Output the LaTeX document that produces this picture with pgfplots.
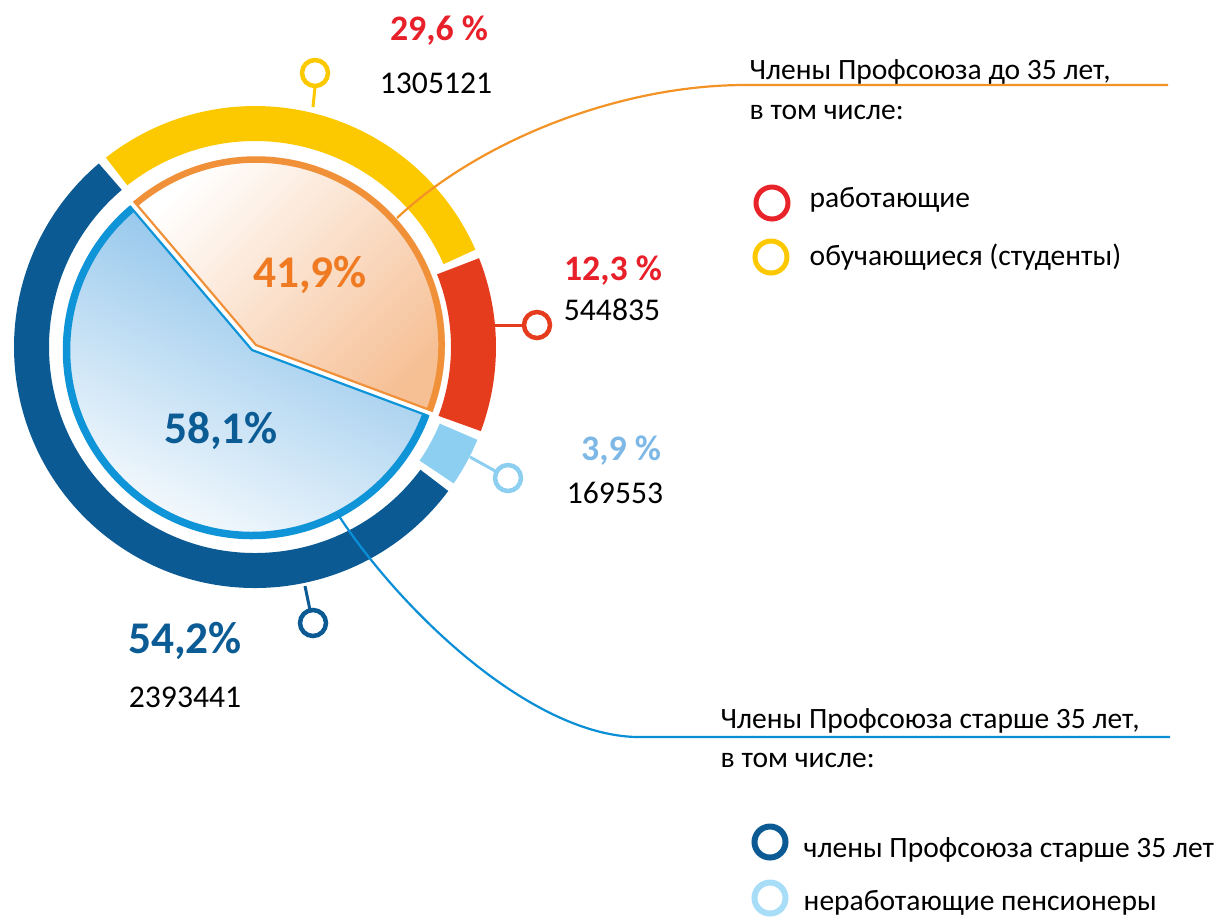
\documentclass[border=0pt]{standalone}
\usepackage{fontspec}
\setmainfont{Carlito}
\usepackage{pgfplots}
\usepackage{pgfplotstable}
\pgfplotsset{compat=1.18}

\definecolor{ringyellow}{HTML}{FCC800}
\definecolor{ringred}{HTML}{E63C1E}
\definecolor{ringlight}{HTML}{8DCFF1}
\definecolor{ringdark}{HTML}{0B5A94}
\definecolor{pieorange}{HTML}{F0913A}
\definecolor{piepeach}{HTML}{F6BF94}
\definecolor{pieblue}{HTML}{0F94D8}
\definecolor{pielight}{HTML}{80BCE8}
\definecolor{txtred}{HTML}{E8202A}
\definecolor{txtorange}{HTML}{F07A22}
\definecolor{txtdark}{HTML}{0B5B95}
\definecolor{txtlight}{HTML}{7DB8E6}
\definecolor{legred}{HTML}{E8232A}
\definecolor{leglight}{HTML}{A8DDF8}
\definecolor{lineorange}{HTML}{F39325}
\definecolor{lineblue}{HTML}{0A8FD6}

% outer ring: share (%), members, inner radius (px)
\pgfplotstableread{
pct   count    rin
29.6  1305121  206
12.3  544835   196
3.9   169553   200
54.2  2393441  206
}\ringdata
% inner pie: under 35 / over 35
\pgfplotstableread{
pct
41.9
58.1
}\piedata

\begin{document}
\begin{tikzpicture}[
    num/.style={font=\fontsize{9}{11}\selectfont, anchor=base, inner sep=0pt},
    pct/.style={font=\fontsize{10.2}{12}\selectfont\bfseries, anchor=base, inner sep=0pt},
    big/.style={font=\fontsize{12.9}{15}\selectfont\bfseries, anchor=base, inner sep=0pt},
    leg/.style={font=\fontsize{8.4}{10}\selectfont, anchor=base west, inner sep=0pt},
]
\begin{axis}[
    scale only axis,
    width=121.5mm, height=91.9mm,
    xmin=0, xmax=1215, ymin=0, ymax=919,
    y dir=reverse,
    hide axis, clip=false,
]
\addplot[draw=none] coordinates {(0,0) (1215,919)};

% outer ring
\pgfplotsextra{
  \xdef\curang{129.3}
  \foreach \i/\col in {0/ringyellow,1/ringred,2/ringlight,3/ringdark}{
    \pgfplotstablegetelem{\i}{pct}\of\ringdata \let\pp\pgfplotsretval
    \pgfplotstablegetelem{\i}{rin}\of\ringdata \let\rin\pgfplotsretval
    \pgfmathsetmacro\da{3.6*\pp}
    \pgfmathsetmacro\rmid{(241+\rin)/20}
    \pgfmathsetmacro\lw{(241-\rin)/10}
    \pgfmathsetmacro\sa{\curang-1.05}
    \pgfmathsetmacro\dd{\da-2.1}
    \draw[\col, line width=\lw mm] (axis cs:255,347) ++(\sa:\rmid mm)
        arc[start angle=\sa, delta angle=-\dd, radius=\rmid mm];
    \pgfmathsetmacro\nx{\curang-\da}\xdef\curang{\nx}
  }
}

% inner pie
\pgfplotsextra{
  \pgfplotstablegetelem{0}{pct}\of\piedata
  \pgfmathsetmacro\oa{3.6*\pgfplotsretval}
  \pgfmathsetmacro\oe{-20.5+\oa}
  \pgfmathsetmacro\ba{360-\oa}
  % blue slice
  \shade[left color=pielight, right color=white, shading angle=-25]
    (axis cs:252,350) -- ++(\oe:18.9mm) arc[start angle=\oe, delta angle=\ba, radius=18.9mm] -- cycle;
  \draw[pieblue, line width=0.75mm] (axis cs:252,350) ++(\oe:18.55mm)
    arc[start angle=\oe, delta angle=\ba, radius=18.55mm];
  \draw[pieblue, line width=0.22mm] (axis cs:252,350) ++(\oe:18.9mm) -- (axis cs:252,350) -- ++(-20.5:18.9mm);
  % orange slice
  \shade[top color=white, bottom color=piepeach, shading angle=45]
    (axis cs:256,345) -- ++(-20.5:18.9mm) arc[start angle=-20.5, delta angle=\oa, radius=18.9mm] -- cycle;
  \draw[pieorange, line width=0.65mm] (axis cs:256,345) ++(-20.5:18.55mm)
    arc[start angle=-20.5, delta angle=\oa, radius=18.55mm];
  \draw[pieorange, line width=0.22mm] (axis cs:256,345) ++(-20.5:18.9mm) -- (axis cs:256,345) -- ++(\oe:18.9mm);
}

% leader lines
\draw[lineorange, line width=0.22mm] (axis cs:397,218) .. controls (axis cs:480,140) and (axis cs:620,85) .. (axis cs:745,85) -- (axis cs:1168,85);
\draw[lineblue, line width=0.22mm] (axis cs:337,513) .. controls (axis cs:400,610) and (axis cs:530,735) .. (axis cs:637,737) -- (axis cs:1170,737);

% connector stems and circles
\draw[ringyellow, line width=0.3mm] (axis cs:313,107) -- (axis cs:315,87);
\draw[ringyellow, line width=0.45mm, fill=white] (axis cs:315,73) circle[radius=1.3mm];
\draw[ringred, line width=0.3mm] (axis cs:495,325) -- (axis cs:524,325);
\draw[ringred, line width=0.45mm, fill=white] (axis cs:537,325) circle[radius=1.3mm];
\draw[ringlight, line width=0.3mm] (axis cs:470,457) -- (axis cs:497,472);
\draw[ringlight, line width=0.45mm, fill=white] (axis cs:508,478) circle[radius=1.3mm];
\draw[ringdark, line width=0.3mm] (axis cs:305,586) -- (axis cs:310,610);
\draw[ringdark, line width=0.45mm, fill=white] (axis cs:313,623) circle[radius=1.3mm];

% value labels
\node[pct, txtred] at (axis cs:439,40) {29,6 \%};
\node[num] at (axis cs:436,93) {1305121};
\node[pct, txtred] at (axis cs:613,280) {12,3 \%};
\node[num] at (axis cs:612,320) {544835};
\node[pct, txtlight] at (axis cs:621,460) {3,9 \%};
\node[num] at (axis cs:615,503) {169553};
\node[big, txtdark] at (axis cs:185,653) {54,2\%};
\node[num] at (axis cs:185,707) {2393441};
\node[big, txtorange] at (axis cs:310,287) {41,9\%};
\node[big, txtdark] at (axis cs:221,443) {58,1\%};

% legend blocks
\node[leg] at (axis cs:749,79) {Члены Профсоюза до 35 лет,};
\node[leg] at (axis cs:749,119) {в том числе:};
\draw[legred, line width=0.5mm] (axis cs:772,203) circle[radius=1.6mm];
\node[leg] at (axis cs:809,207) {работающие};
\draw[ringyellow, line width=0.5mm] (axis cs:771,257) circle[radius=1.6mm];
\node[leg] at (axis cs:809,265) {обучающиеся (студенты)};

\node[leg] at (axis cs:720,728) {Члены Профсоюза старше 35 лет,};
\node[leg] at (axis cs:720,767) {в том числе:};
\draw[ringdark, line width=0.6mm] (axis cs:770,842) circle[radius=1.55mm];
\node[leg] at (axis cs:803,857) {члены Профсоюза старше 35 лет};
\draw[leglight, line width=0.6mm] (axis cs:770,898) circle[radius=1.55mm];
\node[leg] at (axis cs:803,910) {неработающие пенсионеры};
\end{axis}
\end{tikzpicture}
\end{document}
